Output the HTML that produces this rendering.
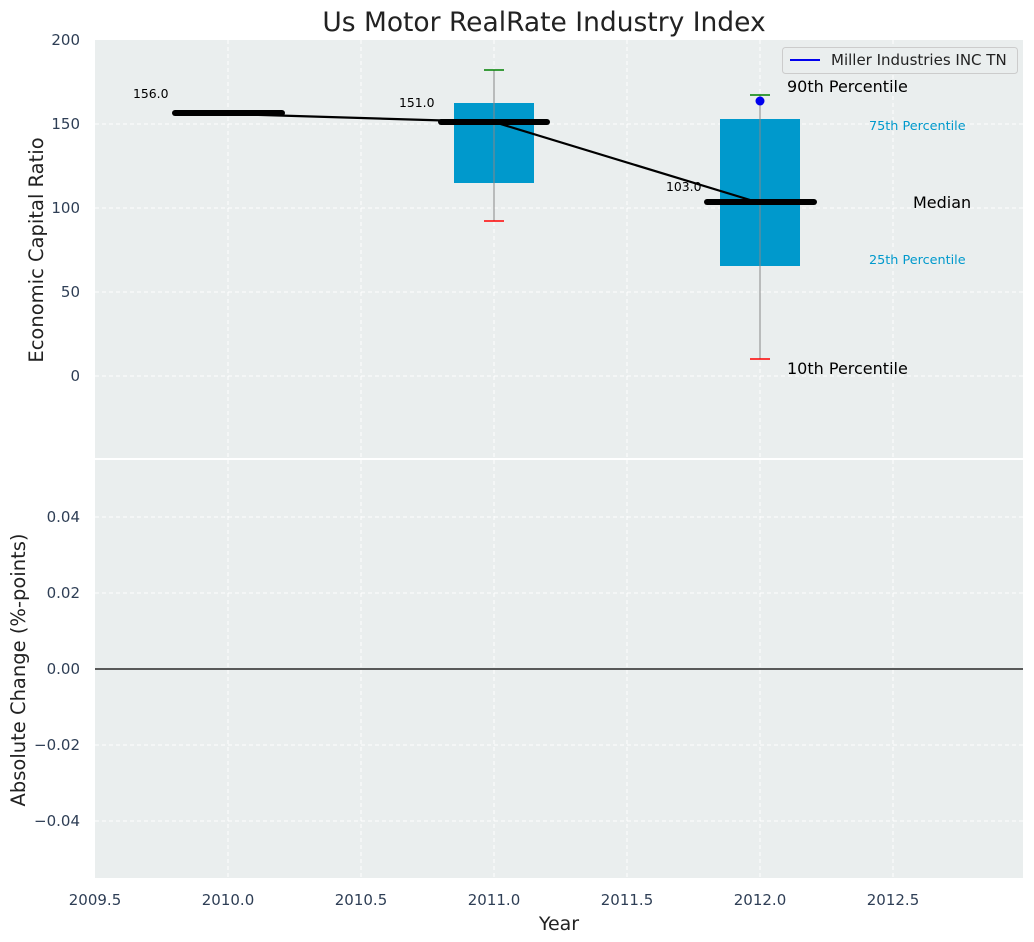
<!DOCTYPE html>
<html><head><meta charset="utf-8"><style>
body{margin:0;background:#fff}
svg{display:block;font-family:"DejaVu Sans","Liberation Sans",sans-serif}
</style></head><body>
<svg width="1034" height="942" viewBox="0 0 1034 942">
<rect width="1034" height="942" fill="#fff"/>
<rect x="95" y="40" width="928" height="838" fill="#eaeeee"/>
<line x1="95" y1="459" x2="1023" y2="459" stroke="#fff" stroke-width="2"/>
<g stroke="#fff" stroke-width="1" stroke-dasharray="4,3">
<line x1="228" y1="40" x2="228" y2="878"/><line x1="361" y1="40" x2="361" y2="878"/>
<line x1="494" y1="40" x2="494" y2="878"/><line x1="627" y1="40" x2="627" y2="878"/>
<line x1="760" y1="40" x2="760" y2="878"/><line x1="893" y1="40" x2="893" y2="878"/>
<line x1="95" y1="124" x2="1023" y2="124"/><line x1="95" y1="208" x2="1023" y2="208"/>
<line x1="95" y1="292" x2="1023" y2="292"/><line x1="95" y1="376" x2="1023" y2="376"/>
<line x1="95" y1="517" x2="1023" y2="517"/><line x1="95" y1="593" x2="1023" y2="593"/>
<line x1="95" y1="745" x2="1023" y2="745"/><line x1="95" y1="821" x2="1023" y2="821"/>
</g>
<g fill="#2e3e55" font-size="15" text-anchor="end">
<text x="80" y="45">200</text><text x="80" y="129">150</text><text x="80" y="213">100</text>
<text x="80" y="297">50</text><text x="80" y="381">0</text>
<text x="80" y="522">0.04</text><text x="80" y="598">0.02</text><text x="80" y="674">0.00</text>
<text x="80" y="750">−0.02</text><text x="80" y="826">−0.04</text>
</g>
<g fill="#2e3e55" font-size="15" text-anchor="middle">
<text x="95" y="905">2009.5</text><text x="228" y="905">2010.0</text><text x="361" y="905">2010.5</text>
<text x="494" y="905">2011.0</text><text x="627" y="905">2011.5</text><text x="760" y="905">2012.0</text>
<text x="893" y="905">2012.5</text>
</g>
<text x="559" y="930" font-size="19" text-anchor="middle" fill="#222">Year</text>
<text x="544" y="31" font-size="26.5" text-anchor="middle" fill="#222">Us Motor RealRate Industry Index</text>
<text transform="translate(43,250) rotate(-90)" font-size="19.5" text-anchor="middle" fill="#222">Economic Capital Ratio</text>
<text transform="translate(25,670) rotate(-90)" font-size="19.5" text-anchor="middle" fill="#222">Absolute Change (%-points)</text>
<line x1="95" y1="669" x2="1023" y2="669" stroke="#000" stroke-width="1.2"/>
<rect x="454" y="103" width="80" height="80" fill="#0099cc"/>
<rect x="720" y="119" width="80" height="147" fill="#0099cc"/>
<line x1="494" y1="70" x2="494" y2="221" stroke="#888" stroke-width="1"/>
<line x1="760" y1="95" x2="760" y2="359" stroke="#888" stroke-width="1"/>
<line x1="484" y1="70" x2="504" y2="70" stroke="green" stroke-width="1.5"/>
<line x1="484" y1="221" x2="504" y2="221" stroke="red" stroke-width="1.5"/>
<line x1="750" y1="95" x2="770" y2="95" stroke="green" stroke-width="1.5"/>
<line x1="750" y1="359" x2="770" y2="359" stroke="red" stroke-width="1.5"/>
<g stroke="#000" stroke-width="6" stroke-linecap="round">
<line x1="175" y1="113" x2="282" y2="113"/>
<line x1="441" y1="122" x2="547" y2="122"/>
<line x1="707" y1="202" x2="814" y2="202"/>
</g>
<polyline points="228,114 494,122 760,203" fill="none" stroke="#000" stroke-width="2.2"/>
<circle cx="760" cy="101" r="4.5" fill="#0000ee"/>
<g font-size="12.4" fill="#000">
<text x="133" y="98">156.0</text><text x="399" y="107">151.0</text><text x="666" y="191">103.0</text>
</g>
<g font-size="16" fill="#000">
<text x="787" y="92">90th Percentile</text><text x="913" y="208">Median</text><text x="787" y="374">10th Percentile</text>
</g>
<g font-size="12.8" fill="#0099cc">
<text x="869" y="130">75th Percentile</text><text x="869" y="264">25th Percentile</text>
</g>
<rect x="782.5" y="47.5" width="235" height="26" rx="3" fill="#eaeeee" stroke="#ccc"/>
<line x1="790" y1="60" x2="820" y2="60" stroke="#0000ee" stroke-width="2"/>
<text x="831" y="65" font-size="15" fill="#222">Miller Industries INC TN</text>
</svg>
</body></html>
